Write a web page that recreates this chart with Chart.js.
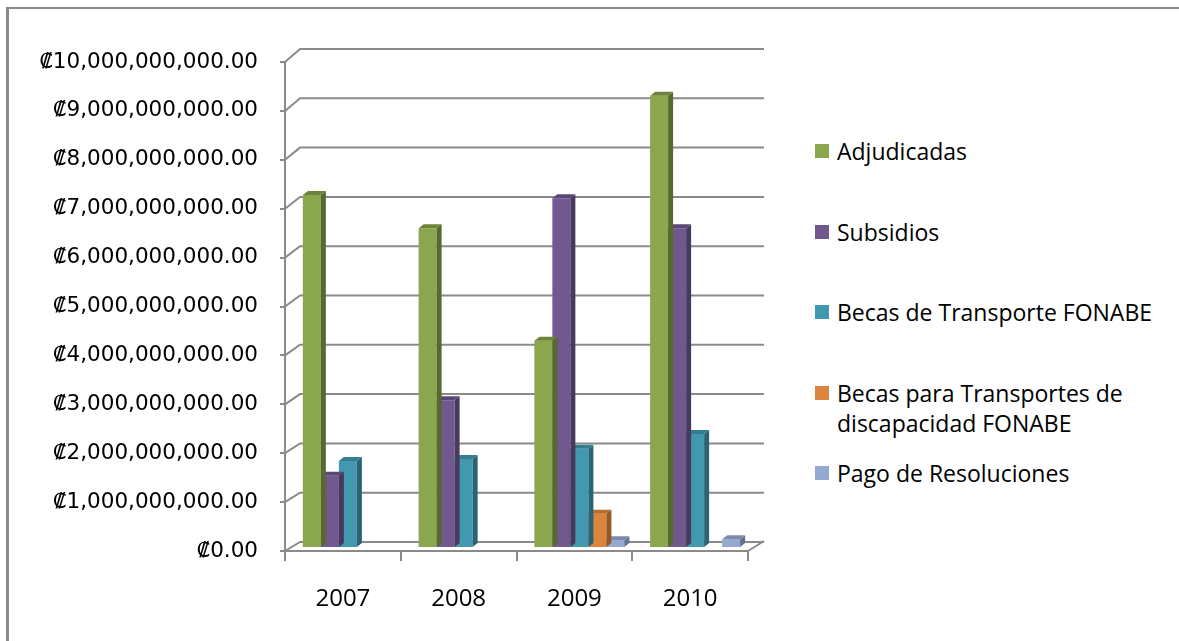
<!DOCTYPE html>
<html>
<head>
<meta charset="utf-8">
<script src="https://cdn.jsdelivr.net/npm/chart.js"></script>
<style>
  body { margin: 0; background: #fff; width: 1179px; height: 641px; overflow: hidden; position: relative; }
  #frame { position: absolute; left: 6px; top: 7px; width: 1300px; height: 800px; border-top: 2px solid #8a8a8a; border-left: 3px solid #8a8a8a; }
  #chart { position: absolute; left: 0; top: 0; }
  #legend { position: absolute; left: 815px; top: 0; font-family: "Open Sans", sans-serif; font-size: 23px; color: #000; }
  .item { position: absolute; left: 0; padding-left: 22px; line-height: 30px; white-space: pre; }
  .item .box { position: absolute; left: 0; top: 8px; width: 14px; height: 14px; }
</style>
</head>
<body>
<div id="frame"></div>
<canvas id="chart" width="800" height="641"></canvas>
<div id="legend"></div>
<script>
// datos (colones)
const years = ["2007", "2008", "2009", "2010"];
const seriesNames = [
  "Adjudicadas",
  "Subsidios",
  "Becas de Transporte FONABE",
  "Becas para Transportes de\ndiscapacidad FONABE",
  "Pago de Resoluciones",
];
const adjudicadas = [7.22e9, 6.54e9, 4.24e9, 9.25e9];
const subsidios = [1.48e9, 3.02e9, 7.15e9, 6.54e9];
const becasTransporte = [1.78e9, 1.82e9, 2.03e9, 2.33e9];
const becasDiscapacidad = [null, null, 0.7e9, null];
const pagoResoluciones = [null, null, 0.16e9, 0.18e9];
const yMax = 10e9;
const yStep = 1e9;

const frontColors = ["#8aa64e", "#71588f", "#4198af", "#db843d", "#93a9d0"];
const sideColors = ["#58692f", "#483a5d", "#2a6373", "#945726", "#63718c"];
const topColors = ["#6c843a", "#5a4775", "#327d90", "#b86b2e", "#7a8cae"];

const gridColor = "#8a8a8a";

// fondo 3D + caras laterales de las barras
const threeD = {
  id: "threeD",
  beforeDatasetsDraw(chart) {
    const ctx = chart.ctx;
    const y = chart.scales.y;
    const a = chart.chartArea;
    ctx.save();
    ctx.strokeStyle = gridColor;
    ctx.lineWidth = 2;
    for (let v = 0; v <= yMax; v += yStep) {
      const py = y.getPixelForValue(v);
      const dy = 9 + 4 * (v / yMax);
      ctx.beginPath();
      ctx.moveTo(a.left, py);
      ctx.lineTo(a.left + 15, py - dy);
      ctx.lineTo(a.right + 16, py - dy);
      ctx.stroke();
    }
    ctx.beginPath();
    ctx.moveTo(a.right, a.bottom);
    ctx.lineTo(a.right + 16, a.bottom - 10);
    ctx.stroke();
    ctx.restore();
    ctx.save();
    ctx.translate(5, -3);
  },
  afterDatasetDraw(chart, args) {
    const ctx = chart.ctx;
    const i = args.index;
    const dx = 5, dz = 4;
    chart.getDatasetMeta(i).data.forEach((bar) => {
      const p = bar.getProps(["x", "y", "base", "width"], true);
      if (p.y == null || isNaN(p.y) || p.base - p.y < 0.5) return;
      const l = p.x - p.width / 2, r = p.x + p.width / 2;
      ctx.fillStyle = sideColors[i];
      ctx.beginPath();
      ctx.moveTo(r, p.y);
      ctx.lineTo(r + dx, p.y - dz);
      ctx.lineTo(r + dx, p.base - dz);
      ctx.lineTo(r, p.base);
      ctx.closePath();
      ctx.fill();
      ctx.fillStyle = topColors[i];
      ctx.beginPath();
      ctx.moveTo(l, p.y);
      ctx.lineTo(l + dx, p.y - dz);
      ctx.lineTo(r + dx, p.y - dz);
      ctx.lineTo(r, p.y);
      ctx.closePath();
      ctx.fill();
    });
  },
  afterDatasetsDraw(chart) {
    chart.ctx.restore();
  },
};

const seriesData = [adjudicadas, subsidios, becasTransporte, becasDiscapacidad, pagoResoluciones];

const config = {
  type: "bar",
  data: {
    labels: years,
    datasets: seriesData.map((d, i) => ({
      label: seriesNames[i],
      data: d,
      backgroundColor: frontColors[i],
      borderWidth: 0,
      categoryPercentage: 0.778,
      barPercentage: 1,
    })),
  },
  options: {
    responsive: false,
    animation: false,
    layout: { padding: { top: 62, right: 52, bottom: 0, left: 0 } },
    plugins: {
      legend: { display: false },
      tooltip: { enabled: false },
    },
    scales: {
      x: {
        afterFit: (s) => { s.height = 90; },
        grid: { drawOnChartArea: false, drawTicks: true, tickLength: 10, color: gridColor, lineWidth: 2, offset: true },
        border: { color: gridColor, width: 2 },
        ticks: { color: "#000", padding: 24, font: { family: "Open Sans", size: 24 } },
      },
      y: {
        min: 0,
        max: yMax,
        afterFit: (s) => { s.width = 285; },
        grid: { drawOnChartArea: false, drawTicks: true, tickLength: 5, color: gridColor, lineWidth: 2 },
        border: { color: gridColor, width: 2 },
        ticks: {
          stepSize: yStep,
          padding: 22,
          color: "#000",
          font: { family: "DejaVu Sans", size: 21.5 },
          callback: (v) => "₡" + Number(v).toLocaleString("en-US", { minimumFractionDigits: 2, maximumFractionDigits: 2 }),
        },
      },
    },
  },
  plugins: [threeD],
};

document.addEventListener("DOMContentLoaded", () => {
  const chart = new Chart("chart", config);
  // leyenda a la derecha
  const legend = document.getElementById("legend");
  chart.data.datasets.forEach((ds, i) => {
    const item = document.createElement("div");
    item.className = "item";
    item.style.top = (136 + i * 80.5) + "px";
    const box = document.createElement("span");
    box.className = "box";
    box.style.background = ds.backgroundColor;
    item.appendChild(box);
    item.appendChild(document.createTextNode(ds.label));
    legend.appendChild(item);
  });
});
</script>
</body>
</html>
